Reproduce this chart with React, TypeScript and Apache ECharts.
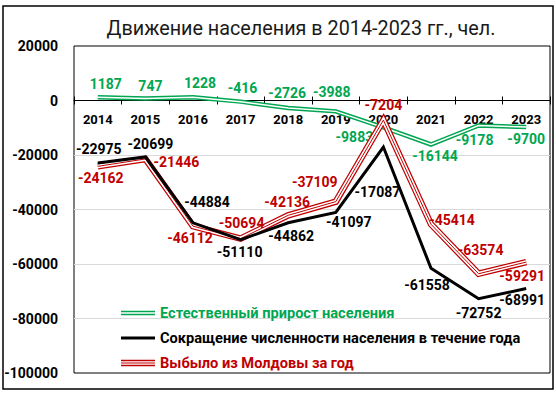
import React, { useEffect, useRef } from "react";
import * as echarts from "echarts";

const years = ["2014", "2015", "2016", "2017", "2018", "2019", "2020", "2021", "2022", "2023"];
const naturalGrowth = [1187, 747, 1228, -416, -2726, -3988, -9883, -16144, -9178, -9700];
const populationDecline = [-22975, -20699, -44884, -51110, -44862, -41097, -17087, -61558, -72752, -68991];
const emigrated = [-24162, -21446, -46112, -50694, -42136, -37109, -7204, -45414, -63574, -59291];
const yTicks = { min: -100000, max: 20000, interval: 20000 };

const seriesNames = [
  "Естественный прирост населения",
  "Сокращение численности населения в течение года",
  "Выбыло из Молдовы за год",
];

// label offsets (pixels) relative to each point
const greenOffsets = [[8, -13], [5, -12], [7, -14], [2, -14], [-1, -15], [-4, -19], [-29, 10], [4, 12], [-4, 14], [0, 12]];
const blackOffsets = [[1, -14], [5, -13], [14, -21], [-1, 12], [3, 13], [13, 10], [-6, 45], [-4, 17], [0, 14], [-4, 11]];
const redOffsets = [[3, 12], [31, 3], [-3, 12], [1, -16], [-1, -13], [-21, -20], [0, -15.5], [21, -4], [2, -24], [-4, 14]];

const GREEN = "#00a651";
const RED = "#c00000";
const BLACK = "#000000";
const FONT = "Roboto, 'Liberation Sans', sans-serif";

const GRID_TOP = 46;
const GRID_BOTTOM = 21;
const CHART_H = 394;

function withLabels(values: number[], offsets: number[][]) {
  return values.map((v, i) => ({ value: v, label: { offset: offsets[i] } }));
}

export default function App() {
  const ref = useRef<HTMLDivElement>(null);
  useEffect(() => {
    if (!ref.current) return;
    const chart = echarts.init(ref.current, null, { renderer: "svg" });
    const plotH = CHART_H - GRID_TOP - GRID_BOTTOM;
    const zeroFromTop = (plotH * yTicks.max) / (yTicks.max - yTicks.min);
    const zeroFromBottom = plotH - zeroFromTop;
    const labelBase = (color: string) => ({
      show: true,
      position: "inside",
      color,
      fontFamily: FONT,
      fontWeight: "bold",
      fontSize: 14,
    });
    const lineBase = {
      type: "line",
      symbol: "circle",
      symbolSize: 1,
      showSymbol: true,
      itemStyle: { color: "rgba(0,0,0,0)" },
      silent: true,
    };
    chart.setOption({
      animation: false,
      backgroundColor: "#ffffff",
      title: {
        text: "Движение населения в 2014-2023 гг., чел.",
        left: 296,
        top: 13,
        textAlign: "center",
        textStyle: { fontFamily: FONT, fontSize: 19.8, fontWeight: "normal", color: "#1a1a1a" },
      },
      graphic: [
        {
          type: "rect",
          shape: { x: 3, y: 6, width: 550, height: 383 },
          style: { fill: "none", stroke: "#000", lineWidth: 1.5 },
          silent: true,
          z: 100,
        },
      ],
      grid: {
        left: 74,
        right: 6,
        top: GRID_TOP,
        bottom: GRID_BOTTOM,
        show: true,
        borderColor: "#000",
        borderWidth: 1,
        backgroundColor: "transparent",
      },
      legend: {
        orient: "vertical",
        left: 116,
        top: 300,
        itemWidth: 34,
        itemHeight: 7,
        itemGap: 9,
        symbolKeepAspect: true,
        textStyle: { fontFamily: FONT, fontWeight: "bold", fontSize: 14.6, lineHeight: 16 },
        data: [
          {
            name: seriesNames[0],
            icon: "path://M0,0H34V1.5H0ZM0,3H34V4.5H0Z",
            itemStyle: { color: GREEN, borderWidth: 0 },
            textStyle: { color: GREEN },
          },
          {
            name: seriesNames[1],
            icon: "path://M0,0H34V3H0Z",
            itemStyle: { color: BLACK, borderWidth: 0 },
            textStyle: { color: BLACK },
          },
          {
            name: seriesNames[2],
            icon: "path://M0,0H34V1.5H0ZM0,2.75H34V3.75H0ZM0,5H34V6.5H0Z",
            itemStyle: { color: RED, borderWidth: 0 },
            textStyle: { color: RED },
          },
        ],
      },
      xAxis: [
        {
          type: "category",
          data: years,
          position: "bottom",
          offset: -zeroFromBottom,
          boundaryGap: true,
          axisLine: { show: true, onZero: false, lineStyle: { color: "#000", width: 1 } },
          axisTick: { show: true, inside: false, length: 4, lineStyle: { color: "#000" } },
          axisLabel: {
            margin: 12,
            color: "#000",
            fontFamily: FONT,
            fontWeight: "bold",
            fontSize: 13,
          },
          splitLine: { show: false },
        },
        {
          type: "category",
          data: years,
          position: "top",
          offset: -zeroFromTop,
          boundaryGap: true,
          axisLine: { show: false, onZero: false },
          axisTick: { show: true, inside: false, length: 4, lineStyle: { color: "#000" } },
          axisLabel: { show: false },
          splitLine: { show: false },
        },
      ],
      yAxis: {
        type: "value",
        min: yTicks.min,
        max: yTicks.max,
        interval: yTicks.interval,
        axisLine: { show: false },
        axisTick: { show: false },
        splitLine: { show: true, showMinLine: false, showMaxLine: false, lineStyle: { color: "#d9d9d9", width: 1 } },
        axisLabel: {
          formatter: (v: number) => String(v),
          color: "#000",
          fontFamily: FONT,
          fontWeight: "bold",
          fontSize: 14,
          margin: 16,
        },
      },
      series: [
        {
          ...lineBase,
          name: seriesNames[0],
          data: withLabels(naturalGrowth, greenOffsets),
          lineStyle: { color: GREEN, width: 4.5, join: "miter" },
          label: labelBase(GREEN),
          z: 2,
        },
        {
          ...lineBase,
          name: "g_inner",
          data: naturalGrowth,
          lineStyle: { color: "#ffffff", width: 1.5, join: "miter" },
          label: { show: false },
          z: 2,
        },
        {
          ...lineBase,
          name: seriesNames[2],
          data: withLabels(emigrated, redOffsets),
          lineStyle: { color: RED, width: 6.5, join: "miter" },
          label: labelBase(RED),
          z: 3,
        },
        {
          ...lineBase,
          name: "r_white",
          data: emigrated,
          lineStyle: { color: "#ffffff", width: 4, join: "miter" },
          label: { show: false },
          z: 3,
        },
        {
          ...lineBase,
          name: "r_inner",
          data: emigrated,
          lineStyle: { color: RED, width: 1, join: "miter" },
          label: { show: false },
          z: 3,
        },
        {
          ...lineBase,
          name: seriesNames[1],
          data: withLabels(populationDecline, blackOffsets),
          lineStyle: { color: BLACK, width: 3, join: "miter" },
          label: labelBase(BLACK),
          z: 4,
        },
      ],
    });
    return () => chart.dispose();
  }, []);
  return (
    <div
      ref={ref}
      style={{ position: "fixed", left: 0, top: 0, width: 556, height: 394, background: "#fff" }}
    />
  );
}
